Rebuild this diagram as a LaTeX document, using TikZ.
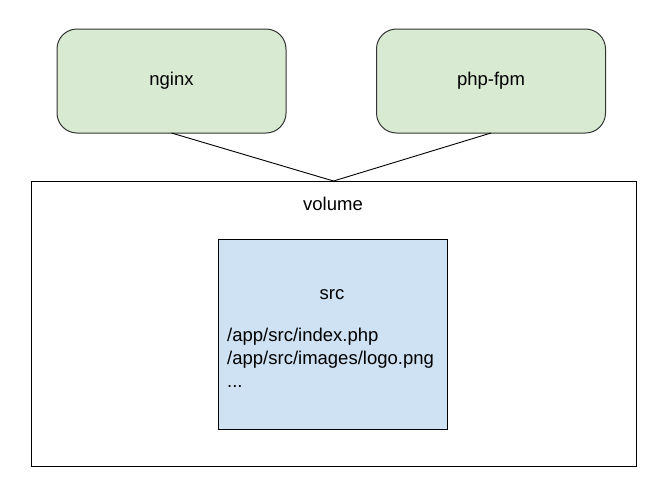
\documentclass[tikz,border=0pt]{standalone}
\usepackage{fontspec}
\setmainfont{Liberation Sans}
\usepackage{xcolor}
\usetikzlibrary{positioning}
\definecolor{svcgreen}{HTML}{D9EAD3}
\definecolor{srcblue}{HTML}{CFE2F3}
\definecolor{edgegray}{HTML}{333333}
\tikzset{
  svc/.style={draw=edgegray, fill=svcgreen, rounded corners=20pt, line width=1pt, minimum width=229pt, minimum height=104pt, inner sep=0pt, outer sep=0pt, font=\fontsize{18.5}{23}\selectfont},
  vol/.style={draw=black, line width=1pt, minimum width=605pt, minimum height=285pt, inner sep=0pt, outer sep=0pt},
  srcbox/.style={draw=black, fill=srcblue, line width=1pt, minimum width=229pt, minimum height=190pt, inner sep=0pt, outer sep=0pt},
  txt/.style={inner sep=0pt, font=\fontsize{18.5}{23}\selectfont},
  link/.style={draw=black, line width=0.9pt},
}
\begin{document}
\begin{tikzpicture}[x=1pt, y=-1pt]
  \useasboundingbox (0,0) rectangle (666,496);
  \node[svc] (nginx) at (171.5,81) {nginx};
  \node[svc] (phpfpm) at (491,81) {php-fpm};
  \node[vol] (volume) at (333.5,323.5) {};
  \node[txt] (vollabel) at (333,204) {volume};
  \node[srcbox] (src) at (332.5,334) {};
  \node[txt] (srclabel) at (332,295) {src};
  \node[txt, anchor=west, align=left] (files) at (227,358) {/app/src/index.php\\/app/src/images/logo.png\\...};

  \draw[link] (nginx.south) -- (volume.north);
  \draw[link] (phpfpm.south) -- (volume.north);
\end{tikzpicture}
\end{document}
